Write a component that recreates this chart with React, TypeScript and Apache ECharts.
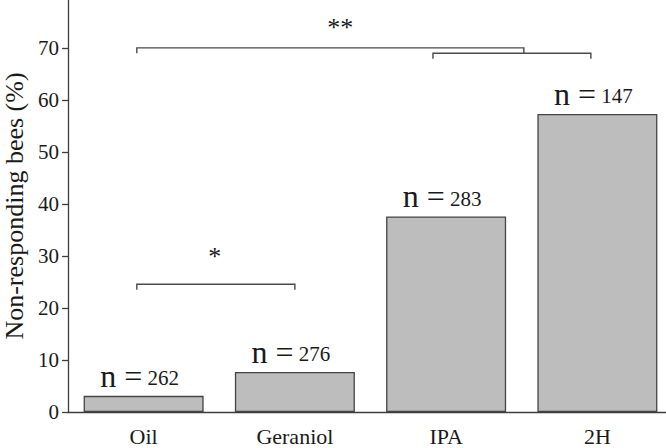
import React, { useEffect, useRef } from "react";
import * as echarts from "echarts";

const categories = ["Oil", "Geraniol", "IPA", "2H"];
const values = [3.1, 7.7, 37.6, 57.3];
const sampleSizes = [262, 276, 283, 147];
const yTicks = [0, 10, 20, 30, 40, 50, 60, 70];
const yMax = 79.2;

// significance brackets: x in category units (0 = first category center), y in axis units
const brackets = [
  { from: -0.045, to: 1.0, y: 24.55, label: "*", labelX: 0.47, labelY: 29.8 },
  { from: -0.045, to: 2.514, y: 70.0, label: "**", labelX: 1.3, labelY: 74.0 },
  { from: 1.913, to: 2.957, y: 68.95, label: "", labelX: 0, labelY: 0 },
];

const FONT = "Liberation Serif";

export default function App() {
  const ref = useRef<HTMLDivElement>(null);
  useEffect(() => {
    if (!ref.current) return;
    const chart = echarts.init(ref.current, null, { renderer: "svg" });
    chart.setOption({
      animation: false,
      grid: { left: 68, top: 0, width: 605, height: 412, outerBoundsMode: "none", containLabel: false },
      xAxis: {
        type: "category",
        data: categories,
        axisLine: { lineStyle: { color: "#3c3c3c", width: 1.3 } },
        axisTick: { show: false },
        axisLabel: { fontFamily: FONT, fontSize: 22, lineHeight: 18, color: "#1a1a1a", margin: 15 },
      },
      yAxis: {
        type: "value",
        min: 0,
        max: yMax,
        name: "Non-responding bees (%)",
        nameLocation: "middle",
        nameGap: 44,
        nameTextStyle: { fontFamily: FONT, fontSize: 26, lineHeight: 20, color: "#1a1a1a" },
        axisLine: { show: true, lineStyle: { color: "#3c3c3c", width: 1.3 } },
        axisTick: { show: true, length: 6, customValues: yTicks, lineStyle: { color: "#3c3c3c", width: 1.3 } },
        axisLabel: { customValues: yTicks, fontFamily: FONT, fontSize: 21, color: "#1a1a1a", margin: 9 },
        splitLine: { show: false },
      },
      series: [
        {
          type: "bar",
          data: values,
          barWidth: 120,
          itemStyle: { color: "#bdbdbd", borderColor: "#444444", borderWidth: 1.3 },
          label: {
            show: true,
            position: "top",
            distance: 4,
            offset: [-4, 0],
            formatter: (p: any) => `{n|n =}{t| ${sampleSizes[p.dataIndex]}}`,
            rich: {
              n: { fontFamily: FONT, fontSize: 32, lineHeight: 32, verticalAlign: "bottom", color: "#1a1a1a" },
              t: {
                fontFamily: FONT,
                fontSize: 21,
                lineHeight: 24,
                verticalAlign: "bottom",
                padding: [0, 0, 3, 0],
                color: "#1a1a1a",
              },
            },
          },
        },
        {
          type: "custom",
          silent: true,
          clip: false,
          z: 10,
          data: brackets.map((b, i) => [i, b.y]),
          renderItem: (params: any, api: any) => {
            const b = brackets[params.dataIndex];
            const c0 = api.coord([0, 0]);
            const c1 = api.coord([1, 0]);
            const step = c1[0] - c0[0];
            const px = (f: number) => c0[0] + f * step;
            const py = (v: number) => api.coord([0, v])[1];
            const y = py(b.y);
            const x1 = px(b.from);
            const x2 = px(b.to);
            const children: any[] = [
              {
                type: "polyline",
                shape: { points: [[x1, y + 5.5], [x1, y], [x2, y], [x2, y + 5.5]] },
                style: { stroke: "#4a4a4a", lineWidth: 1.4, fill: "none" },
              },
            ];
            if (b.label) {
              children.push({
                type: "text",
                style: {
                  text: b.label,
                  x: px(b.labelX),
                  y: py(b.labelY),
                  align: "center",
                  verticalAlign: "middle",
                  fontFamily: FONT,
                  fontSize: 26,
                  fill: "#1a1a1a",
                },
              });
            }
            return { type: "group", children };
          },
        },
      ],
    });
    return () => chart.dispose();
  }, []);
  return (
    <div
      ref={ref}
      style={{ position: "absolute", left: 0, top: 0, width: 666, height: 448, background: "#fff" }}
    />
  );
}
